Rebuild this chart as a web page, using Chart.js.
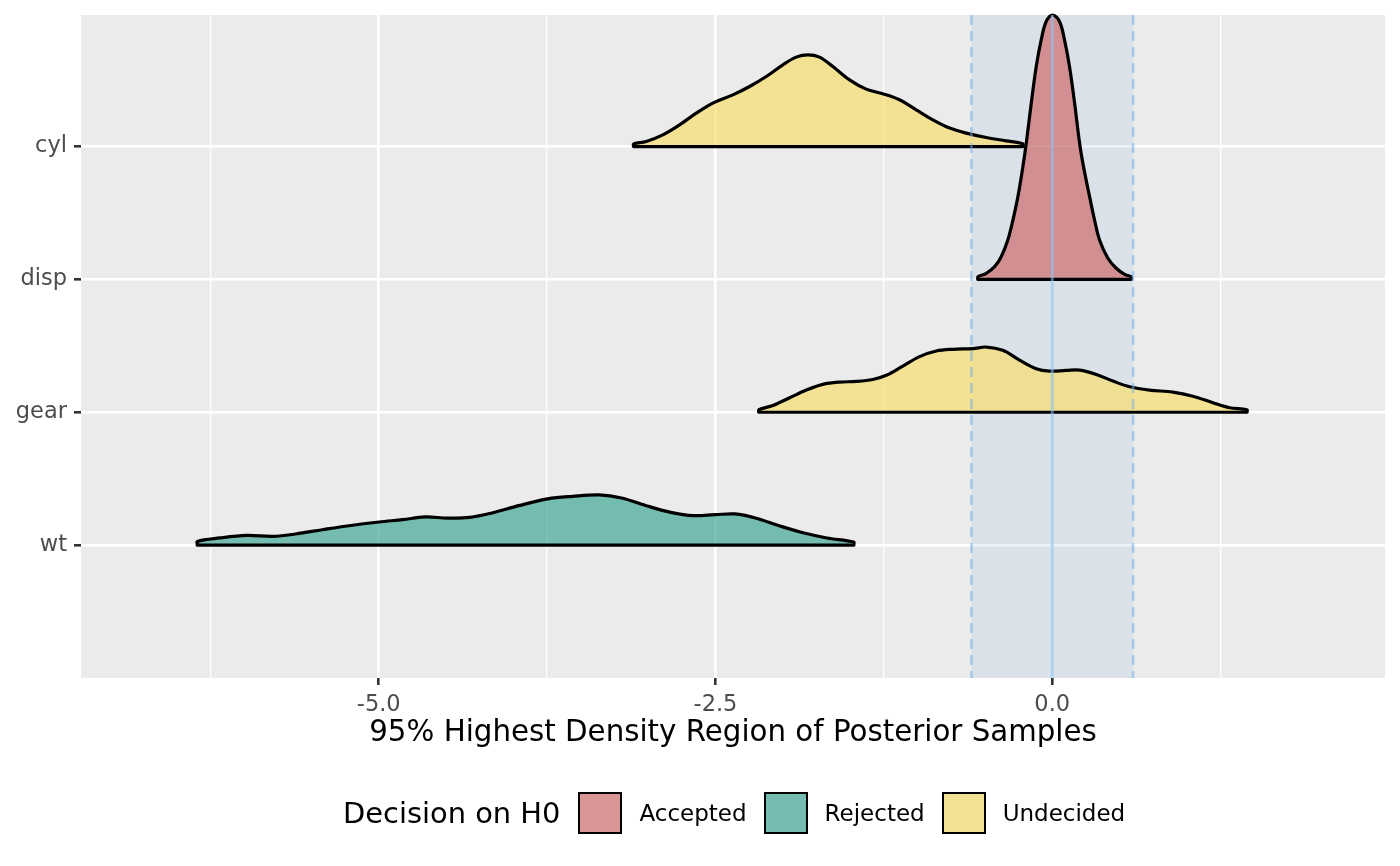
<!DOCTYPE html>
<html>
<head>
<meta charset="utf-8">
<title>Posterior HDR ridges</title>
<script src="https://cdn.jsdelivr.net/npm/chart.js@4.4.1/dist/chart.umd.min.js"></script>
<style>
  body { margin: 0; background: #ffffff; }
  #wrap { position: relative; width: 1400px; height: 866px; }
  #chart { position: absolute; left: 0; top: 0; }
  #legend {
    position: absolute; left: 343px; top: 790px; height: 46px;
    display: flex; align-items: center;
    font-family: "DejaVu Sans", sans-serif; color: #000;
  }
  #legend .ltitle { font-size: 28.9px; margin-right: 18px; }
  #legend .key { box-sizing: border-box; width: 44px; height: 42px; border: 2.5px solid #000; margin-right: 17px; }
  #legend .lab { font-size: 23px; margin-right: 17px; }
</style>
</head>
<body>
<div id="wrap">
  <canvas id="chart" width="1400" height="866"></canvas>
  <div id="legend"></div>
</div>
<script>
// parameters, bottom to top (y = 1, 2, 3, 4)
const categories = ["wt", "gear", "disp", "cyl"];
const decisionOf = ["Rejected", "Undecided", "Accepted", "Undecided"];
const decisions = ["Accepted", "Rejected", "Undecided"];

// density ridges (x = estimate, h = ridge height)
const wtX = [-6.346, -6.346, -6.180, -5.981, -5.782, -5.617, -5.418, -5.220, -4.997, -4.822, -4.656, -4.490, -4.324, -4.159, -3.960, -3.745, -3.562, -3.364, -3.197, -2.999, -2.833, -2.667, -2.502, -2.353, -2.203, -2.038, -1.872, -1.673, -1.474, -1.474];
const wtH = [0, 0.028, 0.054, 0.073, 0.066, 0.084, 0.116, 0.146, 0.174, 0.192, 0.212, 0.204, 0.209, 0.242, 0.297, 0.348, 0.367, 0.378, 0.355, 0.292, 0.247, 0.222, 0.229, 0.235, 0.204, 0.149, 0.099, 0.054, 0.023, 0];

const gearX = [-2.178, -2.178, -2.074, -1.950, -1.826, -1.703, -1.579, -1.455, -1.332, -1.232, -1.109, -0.985, -0.861, -0.738, -0.589, -0.490, -0.367, -0.243, -0.119, -0.020, 0.104, 0.203, 0.327, 0.450, 0.574, 0.723, 0.895, 1.044, 1.192, 1.316, 1.445, 1.445];
const gearH = [0, 0.019, 0.051, 0.109, 0.167, 0.210, 0.227, 0.232, 0.247, 0.278, 0.348, 0.419, 0.461, 0.474, 0.479, 0.491, 0.466, 0.393, 0.328, 0.310, 0.315, 0.317, 0.285, 0.235, 0.192, 0.167, 0.152, 0.121, 0.072, 0.034, 0.019, 0];

const dispX = [-0.552, -0.552, -0.490, -0.428, -0.379, -0.330, -0.292, -0.255, -0.218, -0.193, -0.156, -0.119, -0.082, -0.045, 0.004, 0.054, 0.091, 0.128, 0.166, 0.203, 0.232, 0.277, 0.314, 0.351, 0.413, 0.475, 0.537, 0.586, 0.586];
const dispH = [0, 0.020, 0.046, 0.096, 0.171, 0.297, 0.447, 0.623, 0.849, 1.025, 1.326, 1.602, 1.803, 1.941, 1.990, 1.941, 1.803, 1.602, 1.326, 1.025, 0.849, 0.623, 0.447, 0.297, 0.159, 0.084, 0.038, 0.020, 0];

const cylX = [-3.108, -3.108, -3.014, -2.891, -2.767, -2.643, -2.520, -2.371, -2.247, -2.123, -2.000, -1.901, -1.814, -1.728, -1.629, -1.505, -1.381, -1.258, -1.134, -1.010, -0.886, -0.762, -0.638, -0.490, -0.341, -0.218, -0.218];
const cylH = [0, 0.020, 0.038, 0.088, 0.163, 0.251, 0.327, 0.389, 0.452, 0.527, 0.615, 0.673, 0.690, 0.673, 0.602, 0.502, 0.432, 0.397, 0.352, 0.276, 0.201, 0.139, 0.101, 0.068, 0.043, 0.020, 0];

const ridgeX = [wtX, gearX, dispX, cylX];
const ridgeH = [wtH, gearH, dispH, cylH];

// region of practical equivalence and its centre
const rope = [-0.6, 0.6];
const ropeCenter = 0;

// axis
const xRange = [-7.21, 2.47];
const xMajor = [-5, -2.5, 0];
const xMinor = [-6.25, -3.75, -1.25, 1.25];
const yRange = [0, 4.99];

// styles
const fillColor = {
  Accepted: "rgba(205, 108, 110, 0.7)",
  Rejected: "rgba(66, 168, 150, 0.7)",
  Undecided: "rgba(246, 222, 110, 0.7)",
};
const keyColor = { Accepted: "#DC9597", Rejected: "#76BDB1", Undecided: "#F3E292" };
const FONT = "DejaVu Sans";
const LW = 3.2;

// build datasets: lower rows drawn on top of upper rows
let datasets = [];
categories.forEach((cat, i) => {
  let base = i + 1;
  let xs = ridgeX[i];
  let hs = ridgeH[i];
  datasets.push({
    label: cat,
    data: xs.map((x, j) => ({ x: x, y: base + hs[j] })),
    fill: { value: base },
    backgroundColor: fillColor[decisionOf[i]],
    borderColor: "#000000",
    borderWidth: LW,
    borderJoinStyle: "round",
    pointRadius: 0,
    tension: 0.35,
    clip: 4,
    order: 2 * i + 2,
  });
  datasets.push({
    label: cat + " base",
    data: [{ x: xs[0], y: base }, { x: xs[xs.length - 1], y: base }],
    fill: false,
    borderColor: "#000000",
    borderWidth: LW,
    borderCapStyle: "round",
    pointRadius: 0,
    order: 2 * i + 1,
  });
});

const panelBg = {
  id: "panelBg",
  beforeDraw(chart) {
    const { ctx, chartArea: a } = chart;
    ctx.save();
    ctx.fillStyle = "#EBEBEB";
    ctx.fillRect(a.left, a.top, a.right - a.left, a.bottom - a.top);
    ctx.restore();
  },
};

// shaded ROPE under the ridges, its limits and centre line over them
const ropePlugin = {
  id: "rope",
  beforeDatasetsDraw(chart) {
    const { ctx, chartArea: a, scales } = chart;
    const x0 = scales.x.getPixelForValue(rope[0]);
    const x1 = scales.x.getPixelForValue(rope[1]);
    ctx.save();
    ctx.fillStyle = "rgba(70, 140, 210, 0.1)";
    ctx.fillRect(x0, a.top, x1 - x0, a.bottom - a.top);
    ctx.restore();
  },
  afterDatasetsDraw(chart) {
    const { ctx, chartArea: a, scales } = chart;
    const x0 = scales.x.getPixelForValue(rope[0]);
    const x1 = scales.x.getPixelForValue(rope[1]);
    const xc = scales.x.getPixelForValue(ropeCenter);
    ctx.save();
    ctx.strokeStyle = "rgba(120, 175, 230, 0.55)";
    ctx.lineWidth = 2.6;
    ctx.setLineDash([10, 6]);
    [x0, x1].forEach((px) => {
      ctx.beginPath();
      ctx.moveTo(px, a.top);
      ctx.lineTo(px, a.bottom);
      ctx.stroke();
    });
    ctx.setLineDash([]);
    ctx.strokeStyle = "rgba(135, 190, 240, 0.6)";
    ctx.lineWidth = 3;
    ctx.beginPath();
    ctx.moveTo(xc, a.top);
    ctx.lineTo(xc, a.bottom);
    ctx.stroke();
    ctx.restore();
  },
};

const isMajor = (v) => xMajor.some((m) => Math.abs(m - v) < 1e-9);

new Chart(document.getElementById("chart").getContext("2d"), {
  type: "line",
  data: { datasets: datasets },
  plugins: [panelBg, ropePlugin],
  options: {
    responsive: false,
    animation: false,
    layout: { padding: { top: 15, right: 15, bottom: 111, left: 0 } },
    plugins: { legend: { display: false }, tooltip: { enabled: false } },
    scales: {
      x: {
        type: "linear",
        min: xRange[0],
        max: xRange[1],
        afterBuildTicks: (scale) => {
          scale.ticks = xMinor.concat(xMajor).sort((a, b) => a - b).map((v) => ({ value: v }));
        },
        afterFit: (scale) => {
          scale.height = 77;
          scale.paddingLeft = 0;
          scale.paddingRight = 0;
        },
        ticks: {
          autoSkip: false,
          maxRotation: 0,
          padding: 7,
          color: "#4D4D4D",
          font: { family: FONT, size: 22.5 },
          callback: (v) => (isMajor(v) ? v.toFixed(1) : ""),
        },
        grid: {
          color: "#FFFFFF",
          lineWidth: (c) => (isMajor(c.tick.value) ? 2.6 : 1.3),
          drawTicks: true,
          tickLength: 7,
          tickWidth: 2.6,
          tickColor: (c) => (isMajor(c.tick.value) ? "#333333" : "rgba(0,0,0,0)"),
        },
        border: { display: false },
        title: {
          display: true,
          text: "95% Highest Density Region of Posterior Samples",
          color: "#000000",
          font: { family: FONT, size: 29.3 },
          padding: { top: 0, bottom: 4 },
        },
      },
      y: {
        type: "linear",
        min: yRange[0],
        max: yRange[1],
        afterBuildTicks: (scale) => {
          scale.ticks = categories.map((c, i) => ({ value: i + 1 }));
        },
        afterFit: (scale) => {
          scale.width = 81;
          scale.paddingTop = 0;
          scale.paddingBottom = 0;
        },
        ticks: {
          padding: 7,
          color: "#4D4D4D",
          font: { family: FONT, size: 22.5 },
          callback: (v, i) => categories[i],
        },
        grid: {
          color: "#FFFFFF",
          lineWidth: 2.6,
          drawTicks: true,
          tickLength: 7,
          tickWidth: 2.6,
          tickColor: "#333333",
        },
        border: { display: false },
      },
    },
  },
});

// legend
const legend = document.getElementById("legend");
let t = document.createElement("span");
t.className = "ltitle";
t.textContent = "Decision on H0";
legend.appendChild(t);
decisions.forEach((d) => {
  let k = document.createElement("span");
  k.className = "key";
  k.style.background = keyColor[d];
  legend.appendChild(k);
  let l = document.createElement("span");
  l.className = "lab";
  l.textContent = d;
  legend.appendChild(l);
});
</script>
</body>
</html>
